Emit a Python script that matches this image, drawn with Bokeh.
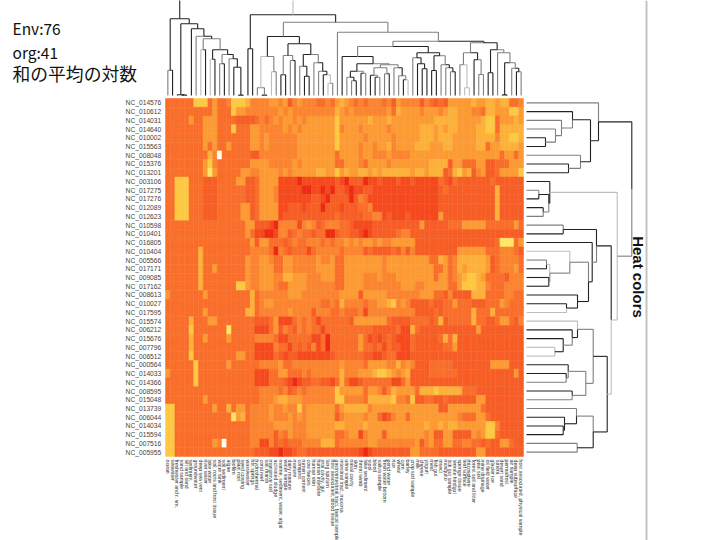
from bokeh.plotting import figure
from bokeh.models import Span
from bokeh.core.properties import value
from bokeh.embed import file_html
from bokeh.resources import INLINE

title_lines = ["Env:76", "org:41"]
title_cjk = ["和の平均の対数"]
side_title = "Heat colors"

row_labels = ["NC_014576","NC_010612","NC_014031","NC_014640","NC_010002","NC_015563","NC_008048",
 "NC_015376","NC_013201","NC_003106","NC_017275","NC_017276","NC_012089","NC_012623","NC_010598",
 "NC_010401","NC_016805","NC_010404","NC_005566","NC_017171","NC_009085","NC_017162","NC_008613",
 "NC_010027","NC_017595","NC_015574","NC_006212","NC_015676","NC_007796","NC_006512","NC_000564",
 "NC_014033","NC_014366","NC_008595","NC_015048","NC_013739","NC_006044","NC_014034","NC_015594",
 "NC_007516","NC_005955"]

col_labels = ["ocean","seawater","freshwater and r. sm.","sand sample","silt and sand","sediment",
 "groundwater","deep sea vent","river water","lake water","soil, roots and host tissue","water tank",
 "soil sediment","algae","biofilm","plant root","seed coating","wastewater","hot springs","hydrothermal",
 "coral reef","salt marsh","mangrove soil","activated sludge","marine, sediment, water, algal",
 "water sample","dairy manure","manure","compost","rumen content","cow faeces","human skin",
 "human intestine","oral cavity, gut","lung sputum","host associated, blood tissue",
 "gastrointestinal tract, faecal sample","intestinal tract, mucosa","urine sample","nasal cavity","skin",
 "throat swab","lake sediment","stool","blood","saliva sample","fresh water bottom","pond water","rice",
 "wheat","corn","barley","crop soil sample","milk","cheese","yogurt","meat","fish gut","insect",
 "mosquito","tick gut sample","termite hindgut","sponge tissue","leaf surface","rhizosphere",
 "forest soil and litter","peat soil","mine drainage","oil field water","glacier ice","tundra",
 "desert sand","permafrost","air sample","deep subsurface","host associated, physical sample"]

# one string per row, one digit per column: 0 = deepest red ... 8 = bright yellow, 9 = white
heat_levels = [
"3333337773 5334777644 4455452454 4433435654 3434443425 4444243232 5555565566 566334",
"3333333333 5333755444 4444545444 4444446545 4444444536 5555455545 6655544366 555775",
"3333353355 5333322223 4345455454 5555557555 5556555655 5555555666 6655555677 355565",
"3333333355 5333733355 4444454545 5555557455 5455555455 5555666565 6655556677 366666",
"3333333355 5333333355 4544444455 5555557555 5545555545 5555666566 6555556666 466776",
"3333333353 5335333355 4544444455 5555557555 5455455645 5556665556 6555556635 566665",
"3333333336 4933333322 4444444455 5555553555 5455444544 4455555555 5555555555 535535",
"3333333357 4333333355 5544444545 5555553355 5435555455 5555556666 2553335522 333555",
"3333333358 5333335544 5555454555 5566557565 5665656666 6656656662 3675624522 355557",
"3377733322 2333355223 5555111101 1111112102 2201121112 1121111132 1322222223 222222",
"3377733322 2333333223 5554111110 0110102210 1122111111 1111111123 2222222222 622222",
"3377733322 2333333223 5554111111 1221022220 2431111111 1111111122 2222222222 622222",
"3377733322 2333335523 5555112221 2220222122 2334111111 1111111122 2222222222 622222",
"3377733322 2333335523 5555122222 2222223222 2233441211 1211111152 2222222222 622222",
"3333333333 3333333552 2210444414 5423444332 1111222222 2222522222 3335555533 333353",
"3333333333 3333333531 1001442343 3233002332 2101222223 4422222222 2222222222 222222",
"3333333333 3333333352 5533323433 4443434454 5455454455 5552222222 2222222222 388835",
"3333333633 3333333344 4430432333 1344444344 4423222232 4242222222 2255555533 344432",
"3333333633 3333333544 5543355444 4454453355 5555554555 5555553365 3466666652 344443",
"3333333633 5333333544 5553355444 4455553355 5555554555 5555555335 3465666652 344453",
"3333333633 3333333544 5554466555 4445553355 5544454445 5555555355 3456776533 332444",
"3333333633 3333377544 5554335555 4444443355 5544444444 5554455555 3357776643 334444",
"5333333353 3333333363 4444445554 4444444555 5255555444 4444555332 4222266633 334433",
"3333333333 3333333363 4554444444 4443343644 4434455674 5422223223 3533322233 354333",
"3333333353 3333333663 4444445444 4244433433 3414444444 4442222323 3333363336 333333",
"3333363335 5333333332 2235111343 4313333332 5555555322 2233332362 3333363322 355324",
"3333373333 3338333331 1135243243 4331333333 3333222223 1163222222 2222225222 222222",
"3333363353 3335333334 4443113333 3113033333 3531212321 1132222236 3622222222 222222",
"3333363333 3333333331 1114331323 2413033333 3533231322 1132222223 3522222222 222222",
"3333373333 3333355331 1113212211 1111123333 3322112331 1122222222 2222222222 222222",
"3333337333 3335333333 4444533444 4444444544 4435555446 4542223333 3222222225 555222",
"5333337333 3333333331 1133553334 3444444644 4555677654 5622223333 3322222222 222252",
"3333337333 3333333331 1133321012 2332213631 1233333311 3522222222 2222222222 222222",
"3333333333 3333333333 4444342343 4444447555 5535542465 5553666766 6663332222 222222",
"3333333353 3333333333 4445665554 4444447744 4436666674 4372233223 2222225522 222222",
"7733333333 5336355344 4454454474 5555553566 6664555555 5555555522 5555555322 222222",
"7733333333 3333856344 4454445454 5555552455 5545531245 5355555555 5543335532 222222",
"7733333333 3333333344 4445555444 5555556655 5565555555 5555565565 6655555577 422222",
"7733333333 3333333344 4442435444 5555553345 5145552555 5555545225 5222254577 322222",
"7733333333 5493333344 1142323334 4446663444 4445544444 4445245335 5334433232 255322",
"7733333333 3333333332 2211011233 2222222222 2101222222 2255333322 2222225522 222222",
]
level_colors = ["#EE2A14","#F44A1E","#F65E26","#F96E2A","#FB8430","#FC9A34","#FDB03A","#FDC842","#FFE666","#FFFFF0"]

# dendrograms: [merge height, stem shade of first child, stem shade of second child, first, second]; None = leaf
L = None
top_tree = [100, 0, 2,
 [76.7, 0, 0,
  [25.3, 1, 0, L, L],
  [71.7, 0, 0,
   [0.7, 0, 0, L, [0.4, 0, 0, L, L]],
   [66.7, 0, 0, L,
    [59.3, 1, 0, L,
     [56.7, 1, 1,
      [45.7, 2, 0, L, L],
      [45.7, 0, 0,
       [36.3, 2, 0, L, L],
       [41, 1, 0,
        [31.7, 1, 0, L, L],
        [36.7, 1, 0, L, [28.3, 0, 0, L, [0.4, 0, 0, L, L]]]]]]]]]],
 [80.7, 0, 0,
  [46.7, 0, 0, L, L],
  [73.3, 1, 1,
   [59, 0, 0,
    [39, 2, 1,
     [7.7, 1, 1, L, [0.4, 0, 0, L, L]],
     [23.7, 2, 1, L, L]],
    [51.7, 0, 0,
     [40, 1, 1,
      [20.7, 0, 0, L, L],
      [35, 1, 0, L, L]],
     [41, 0, 1,
      [29.3, 1, 0, L, [19.3, 0, 0, L, L]],
      [32.7, 1, 0, L,
       [24.3, 1, 0, L,
        [20.7, 0, 2, L, [12.3, 2, 1, L, L]]]]]]],
   [63.3, 1, 1, L,
    [54.3, 1, 0,
     [49, 1, 0,
      [39, 0, 0, L,
       [31.7, 0, 1,
        [24.3, 0, 1,
         [18.3, 1, 0, L, [14.7, 1, 0, L, L]],
         [22.3, 0, 1, L, L]],
        [30.7, 1, 1,
         [27.7, 1, 1,
          [20.3, 0, 1, L, [18.3, 0, 1, L, L]],
          [21.7, 1, 0, L, L]],
         [27.7, 1, 0, L,
          [19.7, 1, 1, L, [15.7, 0, 2, L, L]]]]]],
      [42.7, 0, 0,
       [37.7, 1, 0, L,
        [31.7, 0, 0, L, [26.7, 0, 0, L, L]]],
       [39.7, 0, 1,
        [25, 0, 0, L, L],
        [30.7, 1, 0, L,
         [27.7, 1, 0, L, [23.7, 1, 0, L, L]]]]]],
     [52.7, 1, 0,
      [42.7, 1, 0,
       [30.7, 1, 2, L, [7.7, 2, 2, L, L]],
       [35.7, 0, 1, L, [21, 1, 1, L, L]]],
      [45.7, 0, 1,
       [22.7, 0, 0, L, L],
       [42.7, 1, 1, L,
        [32.7, 0, 1,
         [0.6, 0, 0, L, L],
         [27.3, 1, 0, L, [23.7, 0, 1, L, L]]]]]]]]]]]

right_tree = [105.3, 0, 1,
 [72, 1, 0, L,
  [64, 0, 0,
   [46, 0, 1, L,
    [35, 1, 1, L,
     [29, 1, 1, L,
      [19, 0, 0, L, L]]]],
   [54, 1, 1, L,
    [42, 0, 0, L, L]]]],
 [90.7, 2, 2,
  [23.3, 0, 0, L,
   [22.3, 0, 1,
    [12.3, 1, 0, L, L],
    [16.7, 0, 1, L, L]]],
  [84.7, 0, 2,
   [70, 0, 1,
    [36.7, 1, 0, L, L],
    [65.7, 0, 0, L,
     [62, 1, 0,
      [43.3, 2, 1, L,
       [23.3, 2, 1,
        [20, 1, 0, L, L],
        [22.3, 0, 0, L, L]]],
      [51, 0, 0, L,
       [40, 0, 2, L, L]]]]],
   [80.7, 0, 0,
    [66.7, 1, 1,
     [51, 2, 0, L,
      [45.7, 0, 1, L,
       [36.7, 0, 0, L,
        [28.3, 2, 2, L, L]]]],
     [59.3, 1, 1,
      [41.7, 0, 1, L,
       [39.7, 0, 1, L, L]],
      [45.7, 0, 1, L, L]]],
    [66.7, 1, 0,
     [50, 1, 0, L,
      [38, 0, 0, L,
       [36.7, 0, 0, L, L]]],
     [50.7, 1, 1, L, L]]]]]]
shade_colors = ["#222222", "#7f7f7f", "#bdbdbd"]

FIG_W, FIG_H = 720, 540
CELL_W, CELL_H = 358.0 / len(col_labels), 358.0 / len(row_labels)
HEAT_X, HEAT_Y = 165.0, 98.0          # heat map corner on the canvas


def x_of(px):
    return (px - HEAT_X) / CELL_W


def y_of(px):
    return (px - HEAT_Y) / CELL_H


p = figure(width=FIG_W, height=FIG_H, output_backend="svg", toolbar_location=None,
           x_range=(x_of(0), x_of(FIG_W)), y_range=(y_of(FIG_H), y_of(0)),
           min_border=0, outline_line_color=None, background_fill_color="white",
           border_fill_color="white")
p.axis.visible = False
p.grid.visible = False

rows = [r.replace(" ", "") for r in heat_levels]
assert all(len(r) == len(col_labels) for r in rows), [len(r) for r in rows]
assert len(rows) == len(row_labels)
cx, cy, cc = [], [], []
for j, r in enumerate(rows):
    for i, d in enumerate(r):
        cx.append(i + 0.5)
        cy.append(j + 0.5)
        cc.append(level_colors[int(d)])
p.rect(cx, cy, width=1, height=1, fill_color=cc, line_color=cc, line_width=0.5)

RX = [r + 0.5 for r in range(len(row_labels))]
CX = [c + 0.5 for c in range(len(col_labels))]

p.text([-0.9] * len(row_labels), RX, text=row_labels, text_align="right", text_baseline="middle",
       text_font=value("Liberation Sans"), text_font_size="6.7px", text_color="#444444")
p.text(CX, [len(row_labels) + 0.35] * len(col_labels), text=col_labels, angle=-1.5708, angle_units="rad",
       text_align="left", text_baseline="middle", text_font=value("Liberation Sans"),
       text_font_size="5.2px", text_color="#333333")


def layout(node, counter, out):
    """returns (leaf position, height) and appends (a0, h0, a1, h1, shade) segments"""
    if node is None:
        pos = counter[0]
        counter[0] += 1
        return pos + 0.5, 0.0
    h, s1, s2, c1, c2 = node
    a1, h1 = layout(c1, counter, out)
    a2, h2 = layout(c2, counter, out)
    mid = (a1 + a2) / 2.0
    for a, hc, s in ((a1, h1, s1), (a2, h2, s2)):
        out.append((a, hc, a, h, s))
        out.append((a, h, mid, h, s))
    return mid, h


def draw(tree, horizontal):
    segs = []
    layout(tree, [0], segs)
    if horizontal:   # top dendrogram: heights run upward from above the cells
        base = 3.0
        x0 = [s[0] for s in segs]
        x1 = [s[2] for s in segs]
        y0 = [-(base + s[1]) / CELL_H for s in segs]
        y1 = [-(base + s[3]) / CELL_H for s in segs]
    else:            # side dendrogram: heights run rightward from the cells
        base = 3.0
        y0 = [s[0] for s in segs]
        y1 = [s[2] for s in segs]
        x0 = [len(col_labels) + (base + s[1]) / CELL_W for s in segs]
        x1 = [len(col_labels) + (base + s[3]) / CELL_W for s in segs]
    p.segment(x0, y0, x1, y1, line_color=[shade_colors[s[4]] for s in segs], line_width=1.1)


draw(top_tree, True)
draw(right_tree, False)

# titles and frame line
p.text([x_of(12)] * 2, [y_of(27), y_of(51)], text=title_lines,
       text_align="left", text_baseline="middle", text_font=value("Noto Sans CJK JP"),
       text_font_size="15.5px", text_color="#111111")
p.text([x_of(12)], [y_of(72)], text=title_cjk,
       text_align="left", text_baseline="middle", text_font=value("Noto Sans CJK JP"),
       text_font_size="17.8px", text_color="#111111")
p.text([x_of(638)], [y_of(276.5)], text=[side_title], angle=-1.5708, angle_units="rad",
       text_align="center", text_baseline="middle", text_font=value("Liberation Sans"),
       text_font_size="15px", text_font_style="bold", text_color="#111111")
p.add_layout(Span(location=x_of(646), dimension="height", line_color="#c4c4c4", line_width=2))

open("out.html", "w").write(file_html(p, INLINE))
